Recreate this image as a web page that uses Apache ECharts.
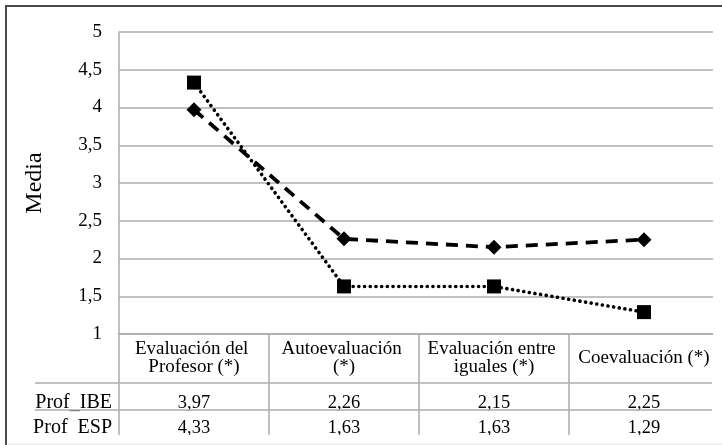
<!DOCTYPE html>
<html>
<head>
<meta charset="utf-8">
<style>
  html, body { margin: 0; padding: 0; background: #fff; }
  #chart { width: 722px; height: 445px; }
</style>
<script src="https://cdn.jsdelivr.net/npm/echarts@6/dist/echarts.min.js"></script>
</head>
<body>
<div id="chart"></div>
<script>
// Categories (evaluation types) and the mean score of each teacher group
const categories = [
  'Evaluación del Profesor (*)',
  'Autoevaluación (*)',
  'Evaluación entre iguales (*)',
  'Coevaluación (*)'
];
const seriesNames = ['Prof_IBE', 'Prof_ESP'];
const ibeValues = [3.97, 2.26, 2.15, 2.25];
const espValues = [4.33, 1.63, 1.63, 1.29];
const yTicks = { min: 1, max: 5, step: 0.5 };
const yTitle = 'Media';

const FONT = '"Liberation Serif", "Times New Roman", serif';
const GRID_GRAY = '#acacac';
const commaNum = v => String(v).replace('.', ',');

const chart = echarts.init(document.getElementById('chart'), null, { renderer: 'canvas' });

const textBase = { fontFamily: FONT, fontSize: 18, color: '#000' };

// value row of the data table under the plot: one offset category axis per series
function tableRow(values, name, offset) {
  return {
    type: 'category',
    data: categories,
    position: 'bottom',
    offset: offset,
    axisLine: { show: false },
    axisTick: { show: false },
    splitLine: { show: false },
    axisLabel: Object.assign({}, textBase, {
      fontSize: 18.5,
      interval: 0,
      margin: 0,
      verticalAlign: 'middle',
      formatter: (v, i) => commaNum(values[i])
    }),
    name: name,
    nameLocation: 'start',
    nameGap: 7,
    nameTextStyle: Object.assign({}, textBase, { fontSize: 20, align: 'right', verticalAlign: 'middle' })
  };
}

chart.setOption({
  animation: false,
  backgroundColor: '#fff',
  grid: { left: 119, top: 32, width: 600, height: 302, containLabel: false },
  xAxis: [
    {
      type: 'category',
      data: categories,
      boundaryGap: true,
      axisLine: { show: true, lineStyle: { color: GRID_GRAY, width: 1.5 } },
      axisTick: { show: true, interval: 0, length: 103, lineStyle: { color: GRID_GRAY, width: 1.5 } },
      splitLine: { show: false },
      axisLabel: Object.assign({}, textBase, {
        fontSize: 19,
        interval: 0,
        margin: 24,
        width: 146,
        overflow: 'break',
        lineHeight: 18,
        align: 'center',
        verticalAlign: 'middle'
      })
    },
    tableRow(ibeValues, seriesNames[0], 69),
    tableRow(espValues, seriesNames[1], 94)
  ],
  yAxis: {
    type: 'value',
    min: yTicks.min,
    max: yTicks.max,
    interval: yTicks.step,
    axisLine: { show: true, lineStyle: { color: GRID_GRAY, width: 1.5 } },
    axisTick: { show: false },
    splitLine: { show: true, lineStyle: { color: GRID_GRAY, width: 1.5 } },
    axisLabel: Object.assign({}, textBase, { fontSize: 19, margin: 17, formatter: v => commaNum(v) }),
    name: yTitle,
    nameLocation: 'middle',
    nameRotate: 90,
    nameGap: 72,
    nameTextStyle: Object.assign({}, textBase, { fontSize: 24 })
  },
  series: [
    {
      name: seriesNames[0],
      type: 'line',
      data: ibeValues,
      symbol: 'diamond',
      symbolSize: 15,
      itemStyle: { color: '#000' },
      lineStyle: { color: '#000', width: 3.8, type: [12, 8] },
      z: 3
    },
    {
      name: seriesNames[1],
      type: 'line',
      data: espValues,
      symbol: 'rect',
      symbolSize: 14,
      itemStyle: { color: '#000' },
      lineStyle: { color: '#000', width: 3.6, type: [0.1, 5.6], cap: 'round' },
      z: 4
    }
  ],
  graphic: [
    // horizontal rules of the data table
    { type: 'line', shape: { x1: 35, y1: 383, x2: 712, y2: 383 }, style: { stroke: GRID_GRAY, lineWidth: 1.5 }, z: 10 },
    { type: 'line', shape: { x1: 35, y1: 410, x2: 712, y2: 410 }, style: { stroke: GRID_GRAY, lineWidth: 1.5 }, z: 10 },
    // right and bottom edge of the chart frame
    { type: 'rect', shape: { x: 713, y: 10, width: 12, height: 440 }, style: { fill: '#fff' }, z: 100 },
    { type: 'rect', shape: { x: 8, y: 435, width: 720, height: 12 }, style: { fill: '#fff' }, z: 100 },
    { type: 'line', shape: { x1: 8, y1: 444, x2: 722, y2: 444 }, style: { stroke: '#e4e4e4', lineWidth: 1 }, z: 101 },
    // outer border (left and top)
    { type: 'polyline', shape: { points: [[6, 445], [6, 6], [722, 6]] }, style: { stroke: '#4a4a4a', lineWidth: 2, fill: null }, z: 101 }
  ]
});
</script>
</body>
</html>
